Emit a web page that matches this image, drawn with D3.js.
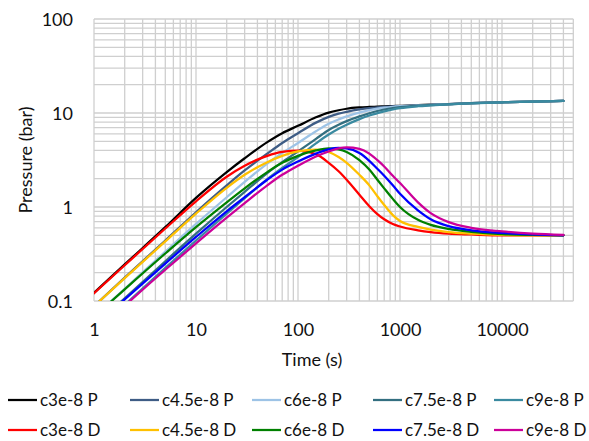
<!DOCTYPE html>
<html>
<head>
<meta charset="utf-8">
<script src="https://cdn.jsdelivr.net/npm/d3@7"></script>
<style>
  html, body { margin: 0; padding: 0; background: #fff; }
  svg { display: block; font-family: Lato, "Liberation Sans", sans-serif; }
</style>
</head>
<body>
<svg id="chart" width="589" height="441"></svg>
<script>
// Sample times (s)
const times = [1, 2, 5, 10, 20, 30, 50, 70, 100, 150, 200, 250, 300, 400, 500, 600, 700, 850, 1000, 1500, 2000, 3000, 5000, 10000, 20000, 40000];

// Pressure curves (bar)
const c3P   = [0.122, 0.245, 0.61, 1.25, 2.35, 3.3, 4.9, 6.1, 7.3, 9.0, 10.1, 10.7, 11.1, 11.45, 11.6, 11.7, 11.75, 11.85, 11.9, 12.1, 12.25, 12.45, 12.7, 13.0, 13.25, 13.45];
const c45P  = [0.088, 0.177, 0.44, 0.88, 1.7, 2.45, 3.7, 4.8, 6.1, 7.9, 9.1, 9.85, 10.3, 10.9, 11.25, 11.45, 11.6, 11.75, 11.85, 12.05, 12.2, 12.45, 12.7, 13.0, 13.25, 13.45];
const c6P   = [0.068, 0.135, 0.335, 0.66, 1.27, 1.85, 2.9, 3.75, 4.8, 6.4, 7.7, 8.55, 9.2, 10.1, 10.75, 11.15, 11.4, 11.65, 11.8, 12.05, 12.2, 12.45, 12.7, 13.0, 13.25, 13.45];
const c75P  = [0.054, 0.107, 0.265, 0.52, 1.0, 1.45, 2.3, 3.0, 3.9, 5.3, 6.6, 7.5, 8.2, 9.2, 9.95, 10.5, 10.9, 11.3, 11.55, 11.95, 12.15, 12.4, 12.7, 13.0, 13.25, 13.45];
const c9P   = [0.046, 0.091, 0.225, 0.44, 0.85, 1.24, 1.98, 2.6, 3.4, 4.75, 5.9, 6.8, 7.5, 8.6, 9.4, 9.95, 10.4, 10.9, 11.25, 11.8, 12.05, 12.35, 12.65, 13.0, 13.25, 13.45];

// Derivative curves (bar)
const c3D   = [0.121, 0.24, 0.59, 1.15, 2.1, 2.75, 3.5, 3.85, 3.97, 3.65, 2.95, 2.4, 1.95, 1.35, 1.02, 0.84, 0.74, 0.66, 0.62, 0.565, 0.54, 0.52, 0.51, 0.5, 0.5, 0.5];
const c45D  = [0.088, 0.175, 0.43, 0.85, 1.6, 2.2, 3.0, 3.5, 3.9, 4.08, 3.85, 3.4, 2.95, 2.2, 1.7, 1.3, 1.05, 0.82, 0.71, 0.615, 0.575, 0.54, 0.52, 0.505, 0.5, 0.5];
const c6D   = [0.068, 0.133, 0.32, 0.61, 1.12, 1.58, 2.35, 2.95, 3.5, 4.0, 4.2, 4.1, 3.85, 3.15, 2.5, 1.95, 1.58, 1.22, 1.0, 0.73, 0.645, 0.585, 0.545, 0.515, 0.505, 0.5];
const c75D  = [0.053, 0.104, 0.25, 0.48, 0.9, 1.27, 1.95, 2.5, 3.05, 3.7, 4.1, 4.25, 4.2, 3.75, 3.1, 2.55, 2.15, 1.7, 1.38, 0.92, 0.74, 0.625, 0.565, 0.53, 0.51, 0.5];
const c9D   = [0.045, 0.089, 0.215, 0.41, 0.77, 1.1, 1.7, 2.2, 2.75, 3.45, 3.9, 4.2, 4.3, 4.15, 3.7, 3.15, 2.7, 2.15, 1.8, 1.12, 0.86, 0.69, 0.6, 0.55, 0.52, 0.505];

const seriesNames  = ["c3e-8 P", "c4.5e-8 P", "c6e-8 P", "c7.5e-8 P", "c9e-8 P",
                      "c3e-8 D", "c4.5e-8 D", "c6e-8 D", "c7.5e-8 D", "c9e-8 D"];
const seriesValues = [c3P, c45P, c6P, c75P, c9P, c3D, c45D, c6D, c75D, c9D];
const seriesColors = ["#000000", "#3E5C85", "#9DC3E6", "#336F80", "#3A8AA0",
                      "#FF0000", "#FFC000", "#008000", "#0000FF", "#CC0099"];

const xTicks = [1, 10, 100, 1000, 10000];
const yTicks = [0.1, 1, 10, 100];
const xDomain = [1, 50000];
const yDomain = [0.1, 100];

const svg = d3.select("#chart");
const plot = { left: 94, right: 573.3, top: 19, bottom: 301 };

const x = d3.scaleLog().domain(xDomain).range([plot.left, plot.right]);
const y = d3.scaleLog().domain(yDomain).range([plot.bottom, plot.top]);

// Minor + major log gridlines
const xGrid = [];
for (let e = 0; e <= 4; e++) for (let k = 1; k <= 9; k++) {
  const v = k * Math.pow(10, e);
  if (v <= xDomain[1]) xGrid.push(v);
}
const yGrid = [];
for (let e = -1; e <= 1; e++) for (let k = 1; k <= 9; k++) yGrid.push(k * Math.pow(10, e));
yGrid.push(100);

const grid = svg.append("g").attr("stroke", "#CFCFCF").attr("stroke-width", 1.3);
grid.selectAll("line.v").data(xGrid).join("line")
  .attr("x1", d => x(d)).attr("x2", d => x(d))
  .attr("y1", plot.top).attr("y2", plot.bottom);
grid.selectAll("line.h").data(yGrid).join("line")
  .attr("y1", d => y(d)).attr("y2", d => y(d))
  .attr("x1", plot.left).attr("x2", plot.right);

// Clip series to the plot area
svg.append("defs").append("clipPath").attr("id", "plotClip")
  .append("rect")
  .attr("x", plot.left).attr("y", plot.top)
  .attr("width", plot.right - plot.left).attr("height", plot.bottom - plot.top);

const line = d3.line()
  .x(d => x(d[0]))
  .y(d => y(d[1]))
  .curve(d3.curveMonotoneX);

const lines = svg.append("g").attr("clip-path", "url(#plotClip)");
seriesValues.forEach((vals, i) => {
  lines.append("path")
    .datum(times.map((t, j) => [t, vals[j]]))
    .attr("fill", "none")
    .attr("stroke", seriesColors[i])
    .attr("stroke-width", 2.25)
    .attr("stroke-linejoin", "round")
    .attr("stroke-linecap", "round")
    .attr("d", line);
});

// Axes (labels only; gridlines form the frame)
const fmt = d => (d < 1 ? d3.format(".1f")(d) : d3.format("d")(d));
const xAxis = d3.axisBottom(x).tickValues(xTicks).tickFormat(fmt).tickSize(0).tickPadding(0);
const yAxis = d3.axisLeft(y).tickValues(yTicks).tickFormat(fmt).tickSize(0).tickPadding(0);

const gx = svg.append("g").attr("transform", `translate(0,${plot.bottom})`).call(xAxis);
gx.select(".domain").remove();
gx.selectAll("text")
  .attr("y", 35).attr("dy", null)
  .attr("font-size", 18).attr("fill", "#111")
  .attr("font-family", "Lato, 'Liberation Sans', sans-serif");

const gy = svg.append("g").attr("transform", `translate(73,0)`).call(yAxis);
gy.select(".domain").remove();
gy.selectAll("text")
  .attr("x", 0).attr("dy", "0.34em")
  .attr("font-size", 18).attr("fill", "#111")
  .attr("font-family", "Lato, 'Liberation Sans', sans-serif");

// Axis titles
svg.append("text")
  .attr("x", 312).attr("y", 366)
  .attr("text-anchor", "middle")
  .attr("font-size", 18).attr("fill", "#111")
  .text("Time (s)");

svg.append("text")
  .attr("transform", "translate(32,160) rotate(-90)")
  .attr("text-anchor", "middle")
  .attr("font-size", 18).attr("fill", "#111")
  .text("Pressure (bar)");

// Legend: two rows of five entries
const legendCols = [8, 130, 252, 373, 494];
const legendRows = [400, 430];
const legend = svg.append("g");
seriesNames.forEach((name, i) => {
  const cx = legendCols[i % 5];
  const cy = legendRows[Math.floor(i / 5)];
  const g = legend.append("g").attr("transform", `translate(${cx},${cy})`);
  g.append("line")
    .attr("x1", 0).attr("x2", 29).attr("y1", 0).attr("y2", 0)
    .attr("stroke", seriesColors[i]).attr("stroke-width", 2.25);
  g.append("text")
    .attr("x", 32).attr("y", 6)
    .attr("font-size", 17).attr("fill", "#111")
    .text(name);
});
</script>
</body>
</html>
